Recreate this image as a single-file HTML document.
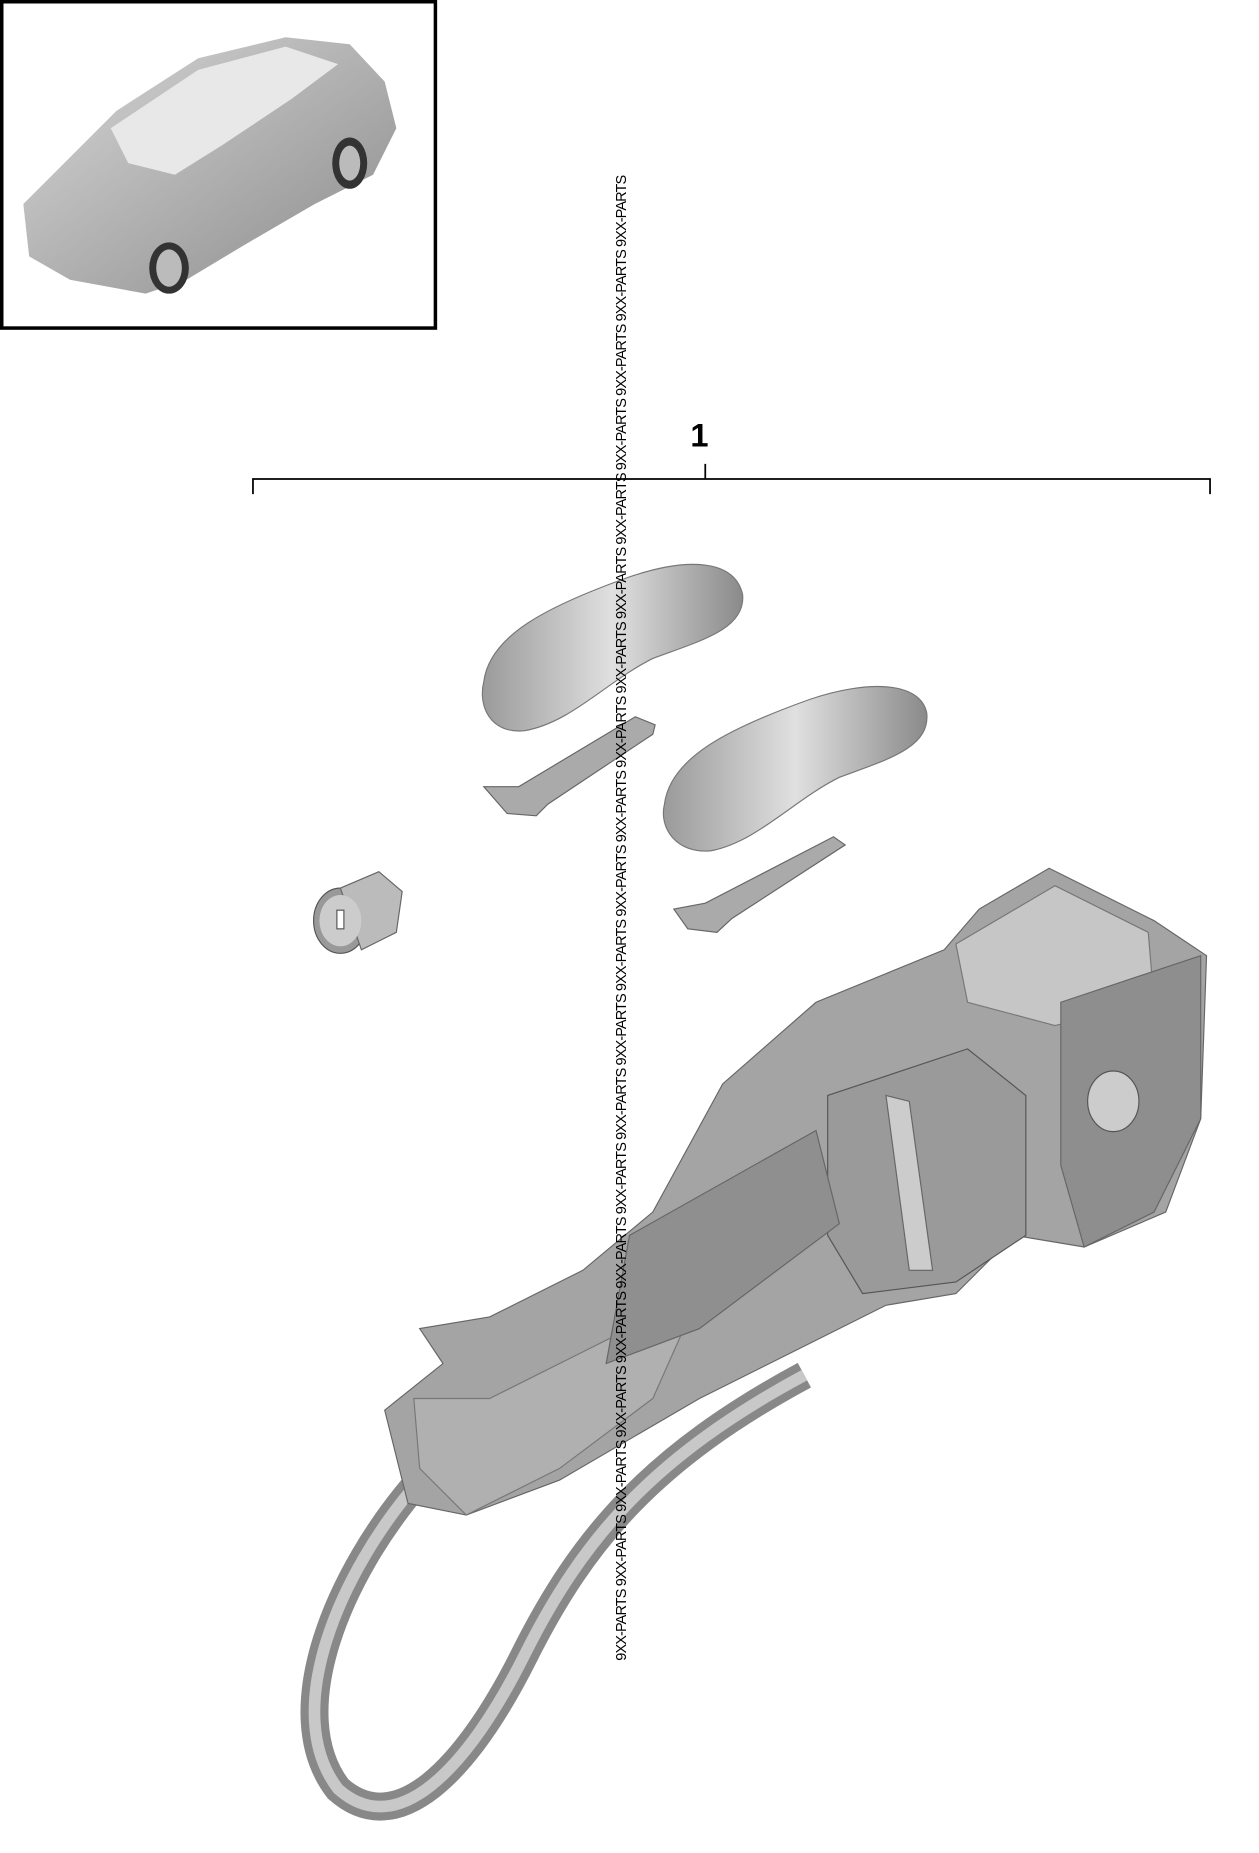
<!DOCTYPE html>
<html><head><meta charset="utf-8"><style>
html,body{margin:0;padding:0;background:#fff;}
svg{display:block}
</style></head><body>
<svg width="1259" height="1853" viewBox="0 0 1080 1590" preserveAspectRatio="none" xmlns="http://www.w3.org/2000/svg">
<defs>
<linearGradient id="g1" x1="0" y1="0" x2="1" y2="1"><stop offset="0" stop-color="#d8d8d8"/><stop offset="1" stop-color="#8a8a8a"/></linearGradient>
<linearGradient id="g2" x1="0" y1="0" x2="1" y2="0"><stop offset="0" stop-color="#9a9a9a"/><stop offset="0.5" stop-color="#e0e0e0"/><stop offset="1" stop-color="#8a8a8a"/></linearGradient>
</defs>
<!-- car box -->
<rect x="1.5" y="1.5" width="372" height="280" fill="#fff" stroke="#000" stroke-width="3"/>
<path d="M20,175 L60,135 L100,95 L170,50 L245,32 L300,38 L330,70 L340,110 L320,150 L270,175 L210,210 L160,240 L125,252 L60,240 L25,220 Z" fill="url(#g1)"/>
<path d="M95,110 L170,60 L245,40 L290,55 L250,85 L190,125 L150,150 L110,140 Z" fill="#e8e8e8"/>
<ellipse cx="145" cy="230" rx="17" ry="22" fill="#333"/><ellipse cx="145" cy="230" rx="11" ry="16" fill="#bbb"/>
<ellipse cx="300" cy="140" rx="15" ry="22" fill="#333"/><ellipse cx="300" cy="140" rx="9" ry="15" fill="#bbb"/>
<!-- label 1 and bracket -->
<text x="600" y="383" font-family="Liberation Sans, sans-serif" font-size="28" font-weight="bold" text-anchor="middle">1</text>
<path d="M217,424 V411 H1038 V424 M605,411 V398" fill="none" stroke="#000" stroke-width="1.5"/>
<!-- keys -->
<path d="M415,585 C420,545 470,520 540,495 C590,478 630,480 637,510 C640,540 600,550 560,565 C520,585 490,620 450,627 C420,630 410,605 415,585 Z" fill="url(#g2)" stroke="#777"/>
<path d="M570,690 C575,650 625,625 695,600 C745,583 790,585 795,612 C798,642 760,652 720,667 C680,687 650,722 610,730 C580,733 565,710 570,690 Z" fill="url(#g2)" stroke="#777"/>
<path d="M415,675 L445,675 L545,615 L562,622 L560,630 L470,690 L460,700 L435,698 Z" fill="#aaa" stroke="#666"/>
<path d="M578,780 L605,775 L715,718 L725,725 L628,788 L615,800 L590,797 Z" fill="#aaa" stroke="#666"/>
<!-- cylinder -->
<ellipse cx="292" cy="790" rx="23" ry="28" fill="#999" stroke="#555"/>
<path d="M292,762 L325,748 L345,765 L340,800 L310,815 Z" fill="#bbb" stroke="#666"/>
<ellipse cx="292" cy="790" rx="18" ry="22" fill="#ccc"/>
<rect x="289" y="781" width="6" height="16" fill="#fff" stroke="#555"/>
<!-- door handle ring -->
<path d="M360,1270 C290,1350 240,1470 290,1535 C340,1580 400,1520 450,1420 C500,1320 560,1250 690,1180" fill="none" stroke="#888" stroke-width="24"/>
<path d="M360,1270 C290,1350 240,1470 290,1535 C340,1580 400,1520 450,1420 C500,1320 560,1250 690,1180" fill="none" stroke="#c8c8c8" stroke-width="10"/>
<!-- handle body -->
<path d="M330,1210 L380,1170 L360,1140 L420,1130 L500,1090 L560,1040 L620,930 L700,860 L810,815 L840,780 L900,745 L990,790 L1035,820 L1030,960 L1000,1040 L930,1070 L870,1060 L820,1110 L760,1120 L700,1150 L600,1200 L480,1270 L400,1300 L350,1290 Z" fill="#a4a4a4" stroke="#666"/>
<path d="M820,810 L905,760 L985,800 L990,860 L905,880 L830,860 Z" fill="#c6c6c6" stroke="#777"/>
<path d="M910,860 L1030,820 L1030,960 L990,1040 L930,1070 L910,1000 Z" fill="#8e8e8e" stroke="#666"/>
<path d="M710,940 L830,900 L880,940 L880,1060 L820,1100 L740,1110 L710,1060 Z" fill="#9a9a9a" stroke="#555"/>
<path d="M760,940 L780,945 L800,1090 L780,1090 Z" fill="#ccc" stroke="#666"/>
<ellipse cx="955" cy="945" rx="22" ry="26" fill="#ccc" stroke="#555"/>
<path d="M355,1200 L420,1200 L500,1160 L560,1130 L600,1110 L560,1200 L480,1260 L400,1300 L360,1260 Z" fill="#b0b0b0" stroke="#777"/>
<path d="M540,1060 L700,970 L720,1050 L600,1140 L520,1170 Z" fill="#8f8f8f" stroke="#666"/>
<!-- watermark -->
<text transform="translate(537,1425) rotate(-90)" font-family="Liberation Sans, sans-serif" font-size="12.5" fill="#000" textLength="1275" lengthAdjust="spacing">9XX-PARTS 9XX-PARTS 9XX-PARTS 9XX-PARTS 9XX-PARTS 9XX-PARTS 9XX-PARTS 9XX-PARTS 9XX-PARTS 9XX-PARTS 9XX-PARTS 9XX-PARTS 9XX-PARTS 9XX-PARTS 9XX-PARTS 9XX-PARTS 9XX-PARTS 9XX-PARTS 9XX-PARTS 9XX-PARTS</text>
</svg>
</body></html>
